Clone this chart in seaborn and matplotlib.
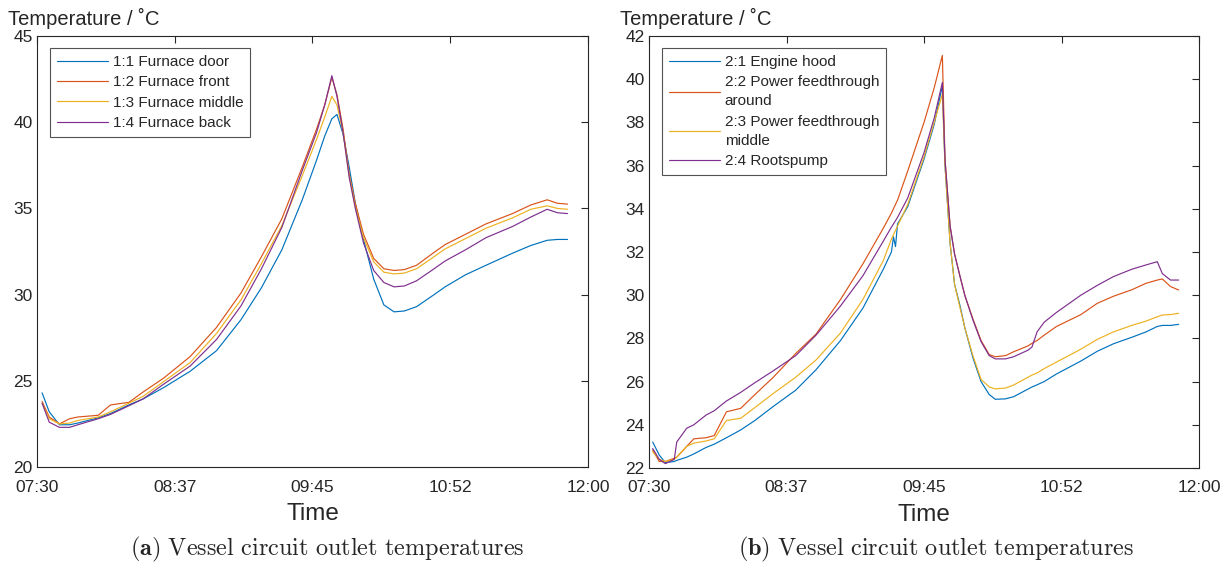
import numpy as np
import pandas as pd
import matplotlib
matplotlib.use("Agg")
import matplotlib.pyplot as plt
import matplotlib.dates as mdates
import seaborn as sns

# minutes after 07:30
time_a = [2.5, 6, 11, 16, 20, 30, 36, 45, 52, 62, 75, 88, 100, 110, 120, 130, 137, 141,
          144.5, 147, 150, 153, 156, 160, 165, 170, 175, 180, 186, 194, 200, 210, 220,
          233, 242, 250, 255, 260]
furnace_door = [24.3, 23.2, 22.45, 22.45, 22.55, 22.85, 23.1, 23.6, 23.95, 24.6, 25.55, 26.75,
                28.55, 30.4, 32.6, 35.5, 37.8, 39.2, 40.2, 40.45, 39.3, 37.4, 35.3, 33.2, 30.9,
                29.4, 29.0, 29.05, 29.3, 29.95, 30.45, 31.15, 31.7, 32.4, 32.85, 33.15, 33.2, 33.2]
furnace_front = [23.8, 22.9, 22.5, 22.8, 22.9, 23.0, 23.6, 23.75, 24.35, 25.15, 26.4, 28.1,
                 30.1, 32.2, 34.4, 37.4, 39.6, 41.0, 42.6, 41.6, 39.6, 37.0, 35.3, 33.5, 32.1,
                 31.5, 31.4, 31.45, 31.7, 32.4, 32.9, 33.5, 34.1, 34.7, 35.2, 35.5, 35.3, 35.25]
furnace_middle = [23.7, 22.8, 22.5, 22.55, 22.7, 22.9, 23.2, 23.7, 24.1, 24.95, 26.05, 27.75,
                  29.7, 31.8, 34.0, 36.9, 39.0, 40.3, 41.5, 41.0, 39.4, 36.9, 35.1, 33.3, 31.9,
                  31.3, 31.2, 31.25, 31.5, 32.15, 32.65, 33.25, 33.85, 34.45, 34.95, 35.15, 35.0, 34.95]
furnace_back = [23.7, 22.6, 22.3, 22.3, 22.45, 22.8, 23.05, 23.55, 23.95, 24.8, 25.85, 27.4,
                29.35, 31.5, 33.9, 37.2, 39.4, 41.0, 42.7, 41.5, 39.4, 36.8, 35.0, 33.0, 31.4,
                30.7, 30.45, 30.5, 30.8, 31.45, 31.95, 32.6, 33.3, 33.95, 34.5, 34.95, 34.75, 34.7]

time_b = [1.8, 5, 8, 12.4, 13.6, 18.5, 22, 28, 32, 38, 45, 52, 61, 72, 82, 94, 105, 115, 119,
          120, 121, 122, 127, 135, 140, 144, 145.3, 147.8, 150, 152.7, 155, 159, 163, 167, 170,
          175, 179, 186, 188, 190.5, 194, 200, 212, 220, 228, 237, 244, 249.5, 252, 256, 260]
engine_hood = [23.2, 22.6, 22.25, 22.3, 22.35, 22.5, 22.65, 22.95, 23.1, 23.4, 23.76, 24.2,
               24.85, 25.6, 26.55, 27.9, 29.4, 31.2, 32.0, 32.7, 32.25, 33.3, 34.1, 36.3, 37.9,
               39.7, 36.0, 32.4, 30.5, 29.5, 28.5, 27.1, 26.0, 25.4, 25.18, 25.2, 25.3, 25.65,
               25.75, 25.85, 26.0, 26.35, 26.95, 27.4, 27.75, 28.05, 28.3, 28.55, 28.6, 28.6, 28.65]
feed_around = [22.83, 22.3, 22.3, 22.45, 22.5, 23.0, 23.35, 23.4, 23.5, 24.6, 24.76, 25.4,
               26.2, 27.3, 28.2, 29.8, 31.45, 33.1, 33.8, 34.0, 34.2, 34.4, 35.75, 38.0, 39.6,
               41.1, 36.3, 33.2, 31.9, 30.86, 30.0, 28.9, 27.9, 27.25, 27.15, 27.2, 27.38, 27.65,
               27.77, 27.9, 28.15, 28.55, 29.1, 29.62, 29.95, 30.25, 30.55, 30.7, 30.75, 30.4, 30.24]
feed_middle = [22.75, 22.4, 22.3, 22.4, 22.5, 23.0, 23.15, 23.25, 23.35, 24.2, 24.3, 24.8,
               25.45, 26.2, 27.0, 28.25, 29.8, 31.6, 32.6, 32.8, 33.0, 33.2, 34.2, 36.4, 38.0,
               39.3, 36.0, 32.4, 30.5, 29.4, 28.5, 27.2, 26.1, 25.75, 25.66, 25.7, 25.84, 26.2,
               26.3, 26.4, 26.6, 26.9, 27.5, 27.95, 28.3, 28.6, 28.8, 29.0, 29.08, 29.1, 29.16]
rootspump = [22.9, 22.4, 22.2, 22.4, 23.2, 23.84, 24.0, 24.45, 24.65, 25.1, 25.5, 25.95,
             26.5, 27.2, 28.15, 29.5, 30.9, 32.5, 33.15, 33.3, 33.45, 33.6, 34.5, 36.6, 38.2,
             39.85, 36.26, 33.2, 31.9, 30.86, 30.0, 28.85, 27.85, 27.2, 27.05, 27.05, 27.15,
             27.45, 27.6, 28.3, 28.75, 29.2, 30.0, 30.45, 30.86, 31.2, 31.4, 31.55, 31.0, 30.7, 30.7]

labels_a = ["1:1 Furnace door", "1:2 Furnace front", "1:3 Furnace middle", "1:4 Furnace back"]
labels_b = ["2:1 Engine hood", "2:2 Power feedthrough\naround",
            "2:3 Power feedthrough\nmiddle", "2:4 Rootspump"]
colors = ["#0072BD", "#D95319", "#EDB120", "#7E2F8E"]

start = pd.Timestamp("2020-01-01 07:30")


def to_frame(minutes, series, labels):
    rows = []
    for vals, lab in zip(series, labels):
        for m, v in zip(minutes, vals):
            rows.append({"time": start + pd.Timedelta(minutes=m), "temp": v, "sensor": lab})
    return pd.DataFrame(rows)


df_a = to_frame(time_a, [furnace_door, furnace_front, furnace_middle, furnace_back], labels_a)
df_b = to_frame(time_b, [engine_hood, feed_around, feed_middle, rootspump], labels_b)

sns.set_style("white")
plt.rcParams["font.family"] = ["Liberation Sans", "DejaVu Sans"]

fig = plt.figure(figsize=(12.29, 5.7), dpi=100)
ax_a = fig.add_axes([0.0301, 0.1807, 0.4483, 0.7561])
ax_b = fig.add_axes([0.5281, 0.1790, 0.4475, 0.7579])

panels = [(ax_a, df_a, labels_a, (20, 45), np.arange(20, 46, 5)),
          (ax_b, df_b, labels_b, (22, 42), np.arange(22, 43, 2))]

for ax, df, labels, ylim, yt in panels:
    sns.lineplot(data=df, x="time", y="temp", hue="sensor", hue_order=labels,
                 palette=colors, linewidth=0.85, ax=ax)
    ax.set_xlim(start, start + pd.Timedelta(minutes=270))
    ax.set_ylim(*ylim)
    ax.set_yticks(yt)
    ax.set_xticks([start + pd.Timedelta(minutes=67.5 * i) for i in range(5)])
    ax.xaxis.set_major_formatter(mdates.DateFormatter("%H:%M"))
    ax.tick_params(direction="in", length=5, width=0.8, top=True, right=True,
                   labelsize=12.5, colors="#262626")
    ax.tick_params(axis="x", pad=9)
    ax.tick_params(axis="y", pad=3)
    for s in ax.spines.values():
        s.set_color("#262626")
        s.set_linewidth(0.8)
    ax.set_ylabel("")
    ax.set_xlabel("Time", fontsize=17.5, labelpad=6)
    ax.text(-0.053, 1.016, "Temperature / ˚C", transform=ax.transAxes,
            fontsize=14.5, ha="left", va="bottom")
    leg = ax.legend(loc="upper left", bbox_to_anchor=(0.024, 0.972), borderaxespad=0,
                    fontsize=11, frameon=True, fancybox=False, edgecolor="#262626",
                    handlelength=3.3, handletextpad=0.35, borderpad=0.45,
                    labelspacing=0.42)
    leg.get_frame().set_linewidth(0.8)
    for t in leg.get_texts():
        t.set_linespacing(1.45)

fig.text(0.266, 0.026, r"$\mathbf{(a)}\ \mathrm{Vessel\ circuit\ outlet\ temperatures}$",
         ha="center", fontsize=17.5, math_fontfamily="cm")
fig.text(0.762, 0.026, r"$\mathbf{(b)}\ \mathrm{Vessel\ circuit\ outlet\ temperatures}$",
         ha="center", fontsize=17.5, math_fontfamily="cm")

fig.savefig("out.png", dpi=100)
